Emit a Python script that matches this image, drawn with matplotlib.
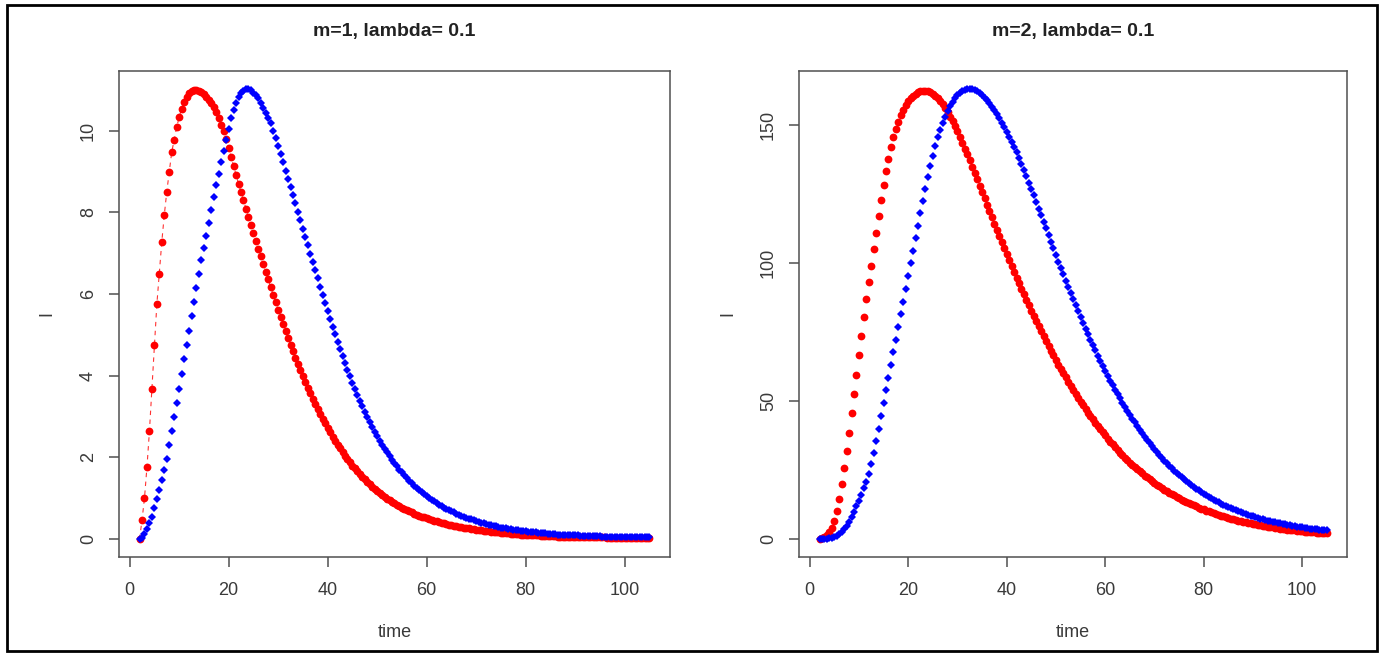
import numpy as np
import matplotlib
matplotlib.use("Agg")
import matplotlib.pyplot as plt
from matplotlib.patches import Rectangle

plt.rcParams['font.family'] = ['Liberation Sans', 'DejaVu Sans']

###############################################################################
# data: infected I(t) sampled every 0.5 time units from t=2 to t=105
###############################################################################
t_start, t_stop, t_step = 2.0, 105.0, 0.5
time = np.arange(t_start, t_stop + t_step / 2, t_step)

# m=1, lambda=0.1
i_red_m1 = [
    0.00, 0.46, 1.00, 1.76, 2.64, 3.68, 4.75, 5.75, 6.50, 7.28,
    7.93, 8.50, 8.98, 9.47, 9.78, 10.08, 10.33, 10.54, 10.69, 10.83,
    10.93, 10.98, 11.00, 11.00, 10.98, 10.94, 10.89, 10.83, 10.76, 10.68,
    10.57, 10.45, 10.31, 10.15, 9.98, 9.79, 9.58, 9.36, 9.14, 8.92,
    8.70, 8.50, 8.30, 8.09, 7.88, 7.68, 7.49, 7.30, 7.11, 6.93,
    6.74, 6.55, 6.36, 6.17, 5.98, 5.80, 5.62, 5.44, 5.27, 5.10,
    4.93, 4.76, 4.60, 4.44, 4.29, 4.14, 3.99, 3.85, 3.71, 3.57,
    3.44, 3.31, 3.18, 3.06, 2.94, 2.83, 2.72, 2.61, 2.51, 2.41,
    2.31, 2.22, 2.13, 2.04, 1.96, 1.88, 1.80, 1.73, 1.66, 1.59,
    1.52, 1.46, 1.40, 1.34, 1.28, 1.23, 1.18, 1.13, 1.08, 1.04,
    0.99, 0.95, 0.91, 0.87, 0.84, 0.80, 0.77, 0.74, 0.71, 0.68,
    0.65, 0.62, 0.60, 0.57, 0.55, 0.53, 0.51, 0.49, 0.47, 0.45,
    0.43, 0.41, 0.40, 0.38, 0.37, 0.35, 0.34, 0.32, 0.31, 0.30,
    0.29, 0.28, 0.27, 0.26, 0.25, 0.24, 0.23, 0.22, 0.21, 0.20,
    0.19, 0.19, 0.18, 0.17, 0.17, 0.16, 0.15, 0.15, 0.14, 0.14,
    0.13, 0.13, 0.12, 0.12, 0.11, 0.11, 0.10, 0.10, 0.10, 0.09,
    0.09, 0.09, 0.08, 0.08, 0.08, 0.07, 0.07, 0.07, 0.07, 0.06,
    0.06, 0.06, 0.06, 0.06, 0.05, 0.05, 0.05, 0.05, 0.05, 0.05,
    0.04, 0.04, 0.04, 0.04, 0.04, 0.04, 0.04, 0.04, 0.04, 0.03,
    0.03, 0.03, 0.03, 0.03, 0.03, 0.03, 0.03, 0.03, 0.03, 0.03,
    0.02, 0.02, 0.02, 0.02, 0.02, 0.02, 0.02,
]
i_blue_m1 = [
    0.00, 0.03, 0.12, 0.24, 0.38, 0.55, 0.76, 0.98, 1.20, 1.44,
    1.70, 1.96, 2.30, 2.64, 2.98, 3.32, 3.68, 4.04, 4.40, 4.76,
    5.10, 5.45, 5.80, 6.15, 6.50, 6.82, 7.12, 7.42, 7.73, 8.05,
    8.37, 8.66, 8.94, 9.22, 9.50, 9.78, 10.05, 10.30, 10.50, 10.68,
    10.82, 10.92, 10.98, 11.02, 11.02, 10.99, 10.93, 10.87, 10.80, 10.68,
    10.56, 10.44, 10.32, 10.18, 10.00, 9.82, 9.63, 9.43, 9.22, 9.02,
    8.82, 8.62, 8.42, 8.22, 8.00, 7.80, 7.60, 7.40, 7.20, 6.98,
    6.78, 6.58, 6.38, 6.18, 5.98, 5.78, 5.58, 5.39, 5.20, 5.01,
    4.83, 4.65, 4.48, 4.31, 4.15, 3.99, 3.83, 3.68, 3.53, 3.39,
    3.25, 3.12, 2.99, 2.87, 2.75, 2.63, 2.52, 2.41, 2.31, 2.21,
    2.12, 2.03, 1.94, 1.86, 1.78, 1.70, 1.63, 1.56, 1.49, 1.43,
    1.37, 1.31, 1.25, 1.20, 1.15, 1.10, 1.05, 1.00, 0.96, 0.92,
    0.88, 0.84, 0.80, 0.77, 0.74, 0.71, 0.68, 0.65, 0.62, 0.59,
    0.57, 0.54, 0.52, 0.50, 0.48, 0.46, 0.44, 0.42, 0.40, 0.38,
    0.37, 0.35, 0.34, 0.32, 0.31, 0.30, 0.28, 0.27, 0.26, 0.25,
    0.24, 0.23, 0.22, 0.21, 0.20, 0.19, 0.19, 0.18, 0.17, 0.17,
    0.16, 0.15, 0.15, 0.14, 0.14, 0.13, 0.13, 0.12, 0.12, 0.11,
    0.11, 0.11, 0.10, 0.10, 0.10, 0.09, 0.09, 0.09, 0.08, 0.08,
    0.08, 0.08, 0.07, 0.07, 0.07, 0.07, 0.07, 0.06, 0.06, 0.06,
    0.06, 0.06, 0.06, 0.05, 0.05, 0.05, 0.05, 0.05, 0.05, 0.05,
    0.05, 0.04, 0.04, 0.04, 0.04, 0.04, 0.04,
]

# m=2, lambda=0.1
i_red_m2 = [
    0.0, 0.3, 0.8, 1.5, 2.5, 4.0, 6.5, 10.0, 14.5, 20.0,
    25.8, 32.0, 38.5, 45.5, 52.5, 59.5, 66.5, 73.5, 80.3, 86.8,
    93.0, 99.0, 105.0, 111.0, 117.0, 122.8, 128.2, 133.2, 137.8, 142.0,
    145.5, 148.5, 151.2, 153.5, 155.4, 157.1, 158.5, 159.7, 160.6, 161.3,
    161.8, 162.1, 162.3, 162.3, 162.1, 161.8, 161.3, 160.6, 159.7, 158.7,
    157.5, 156.1, 154.6, 153.0, 151.3, 149.5, 147.6, 145.6, 143.5, 141.4,
    139.3, 137.1, 134.9, 132.6, 130.3, 128.0, 125.7, 123.4, 121.1, 118.8,
    116.5, 114.2, 111.9, 109.7, 107.5, 105.3, 103.1, 101.0, 98.9, 96.8,
    94.7, 92.6, 90.6, 88.6, 86.6, 84.6, 82.7, 80.8, 78.9, 77.0,
    75.2, 73.4, 71.6, 69.9, 68.2, 66.5, 64.8, 63.2, 61.6, 60.0,
    58.5, 57.0, 55.5, 54.0, 52.6, 51.2, 49.8, 48.4, 47.1, 45.8,
    44.5, 43.3, 42.1, 40.9, 39.7, 38.6, 37.5, 36.4, 35.3, 34.3,
    33.3, 32.3, 31.3, 30.4, 29.5, 28.6, 27.7, 26.9, 26.1, 25.3,
    24.5, 23.8, 23.0, 22.3, 21.6, 20.9, 20.3, 19.7, 19.1, 18.5,
    17.9, 17.3, 16.8, 16.3, 15.8, 15.3, 14.8, 14.3, 13.9, 13.4,
    13.0, 12.6, 12.2, 11.8, 11.4, 11.0, 10.7, 10.3, 10.0, 9.7,
    9.4, 9.1, 8.8, 8.5, 8.2, 7.9, 7.7, 7.4, 7.2, 6.9,
    6.7, 6.5, 6.3, 6.1, 5.9, 5.7, 5.5, 5.3, 5.1, 4.9,
    4.8, 4.6, 4.5, 4.3, 4.2, 4.0, 3.9, 3.8, 3.6, 3.5,
    3.4, 3.3, 3.2, 3.1, 3.0, 2.9, 2.8, 2.7, 2.6, 2.5,
    2.4, 2.4, 2.3, 2.2, 2.1, 2.1, 2.0,
]
i_blue_m2 = [
    0.0, 0.02, 0.08, 0.18, 0.32, 0.52, 0.8, 1.2, 1.8, 2.6,
    3.6, 4.7, 6.0, 7.9, 9.8, 11.8, 13.9, 16.0, 18.3, 20.8,
    23.6, 27.3, 31.3, 35.6, 40.0, 44.6, 49.2, 53.8, 58.4, 63.0,
    67.6, 72.2, 76.8, 81.4, 86.0, 90.6, 95.2, 99.8, 104.4, 109.0,
    113.5, 118.0, 122.4, 126.8, 131.0, 135.0, 138.8, 142.3, 145.5, 148.3,
    150.8, 153.0, 155.0, 156.8, 158.4, 159.7, 160.8, 161.7, 162.3, 162.7,
    163.0, 163.0, 162.9, 162.6, 162.1, 161.5, 160.8, 159.9, 158.9, 157.8,
    156.6, 155.3, 153.9, 152.4, 150.8, 149.1, 147.4, 145.6, 143.8, 141.9,
    140.0, 138.0, 135.9, 133.7, 131.4, 129.1, 126.8, 124.5, 122.1, 119.7,
    117.3, 114.9, 112.5, 110.1, 107.7, 105.3, 102.9, 100.5, 98.2, 95.9,
    93.6, 91.3, 89.1, 86.9, 84.7, 82.5, 80.4, 78.3, 76.2, 74.2,
    72.2, 70.2, 68.3, 66.4, 64.5, 62.7, 60.9, 59.1, 57.4, 55.7,
    54.1, 52.5, 50.9, 49.4, 47.9, 46.4, 45.0, 43.6, 42.2, 40.9,
    39.6, 38.3, 37.1, 35.9, 34.7, 33.6, 32.5, 31.4, 30.4, 29.4,
    28.4, 27.5, 26.6, 25.7, 24.8, 24.0, 23.2, 22.4, 21.6, 20.9,
    20.2, 19.5, 18.8, 18.2, 17.6, 17.0, 16.4, 15.8, 15.3, 14.8,
    14.3, 13.8, 13.3, 12.8, 12.4, 12.0, 11.6, 11.2, 10.8, 10.4,
    10.1, 9.7, 9.4, 9.1, 8.8, 8.5, 8.2, 7.9, 7.6, 7.4,
    7.1, 6.9, 6.7, 6.5, 6.3, 6.1, 5.9, 5.7, 5.5, 5.3,
    5.1, 5.0, 4.8, 4.7, 4.5, 4.4, 4.2, 4.1, 4.0, 3.8,
    3.7, 3.6, 3.5, 3.4, 3.3, 3.2, 3.1,
]

titles = ["m=1, lambda= 0.1", "m=2, lambda= 0.1"]
x_ticks = [0, 20, 40, 60, 80, 100]
y_ticks = [[0, 2, 4, 6, 8, 10], [0, 50, 100, 150]]

###############################################################################
# figure
###############################################################################
axis_grey = "#505050"
text_grey = "#3a3a3a"


def r_limits(values):
    # base-R style axis range: data range padded by 4% on each side
    lo, hi = np.min(values), np.max(values)
    pad = 0.04 * (hi - lo)
    return lo - pad, hi + pad


def style_axes(ax, yticks, title):
    for side in ax.spines.values():
        side.set_color(axis_grey)
        side.set_linewidth(1.1)
    ax.set_xticks(x_ticks)
    ax.set_yticks(yticks)
    ax.tick_params(direction="out", length=7, width=1.1, color=axis_grey,
                   labelcolor=text_grey, labelsize=13)
    ax.tick_params(axis="x", pad=11)
    ax.tick_params(axis="y", pad=9)
    for lab in ax.get_yticklabels():
        lab.set_rotation(90)
        lab.set_va("center")
    ax.set_xlabel("time", fontsize=13, color=text_grey, labelpad=18)
    ax.set_title(title, fontsize=14, fontweight="bold", color="#222222",
                 pad=25)


fig = plt.figure(figsize=(13.82, 6.53), dpi=100)
ax1 = fig.add_axes([0.0862, 0.147, 0.3985, 0.7443])
ax2 = fig.add_axes([0.5783, 0.147, 0.3965, 0.7443])

panels = [(ax1, i_red_m1, i_blue_m1), (ax2, i_red_m2, i_blue_m2)]
for k, (ax, red, blue) in enumerate(panels):
    red = np.array(red)
    blue = np.array(blue)
    if k == 0:
        # first panel was drawn with a dashed connecting line
        ax.plot(time, red, color="red", lw=0.8, ls=(0, (4, 4)), alpha=0.8)
    ax.plot(time, red, "o", color="red", ms=5.6, mew=0)
    ax.plot(time, blue, "D", color="blue", ms=3.9, mew=0)
    ax.set_xlim(r_limits(time))
    ax.set_ylim(r_limits(np.concatenate([red, blue])))
    style_axes(ax, y_ticks[k], titles[k])

# y axis label "I", placed at a fixed pixel column left of each panel
for ax, x_px in [(ax1, 47), (ax2, 728)]:
    fig.text(x_px / 1382, 1 - 314 / 653, "I", rotation=90, fontsize=13,
             color=text_grey, ha="center", va="center")

# outer frame
fig.patches.append(Rectangle((7 / 1382, 2 / 653), 1370 / 1382, 646 / 653,
                             transform=fig.transFigure, fill=False,
                             edgecolor="black", linewidth=2))

fig.savefig("out.png", dpi=100)
